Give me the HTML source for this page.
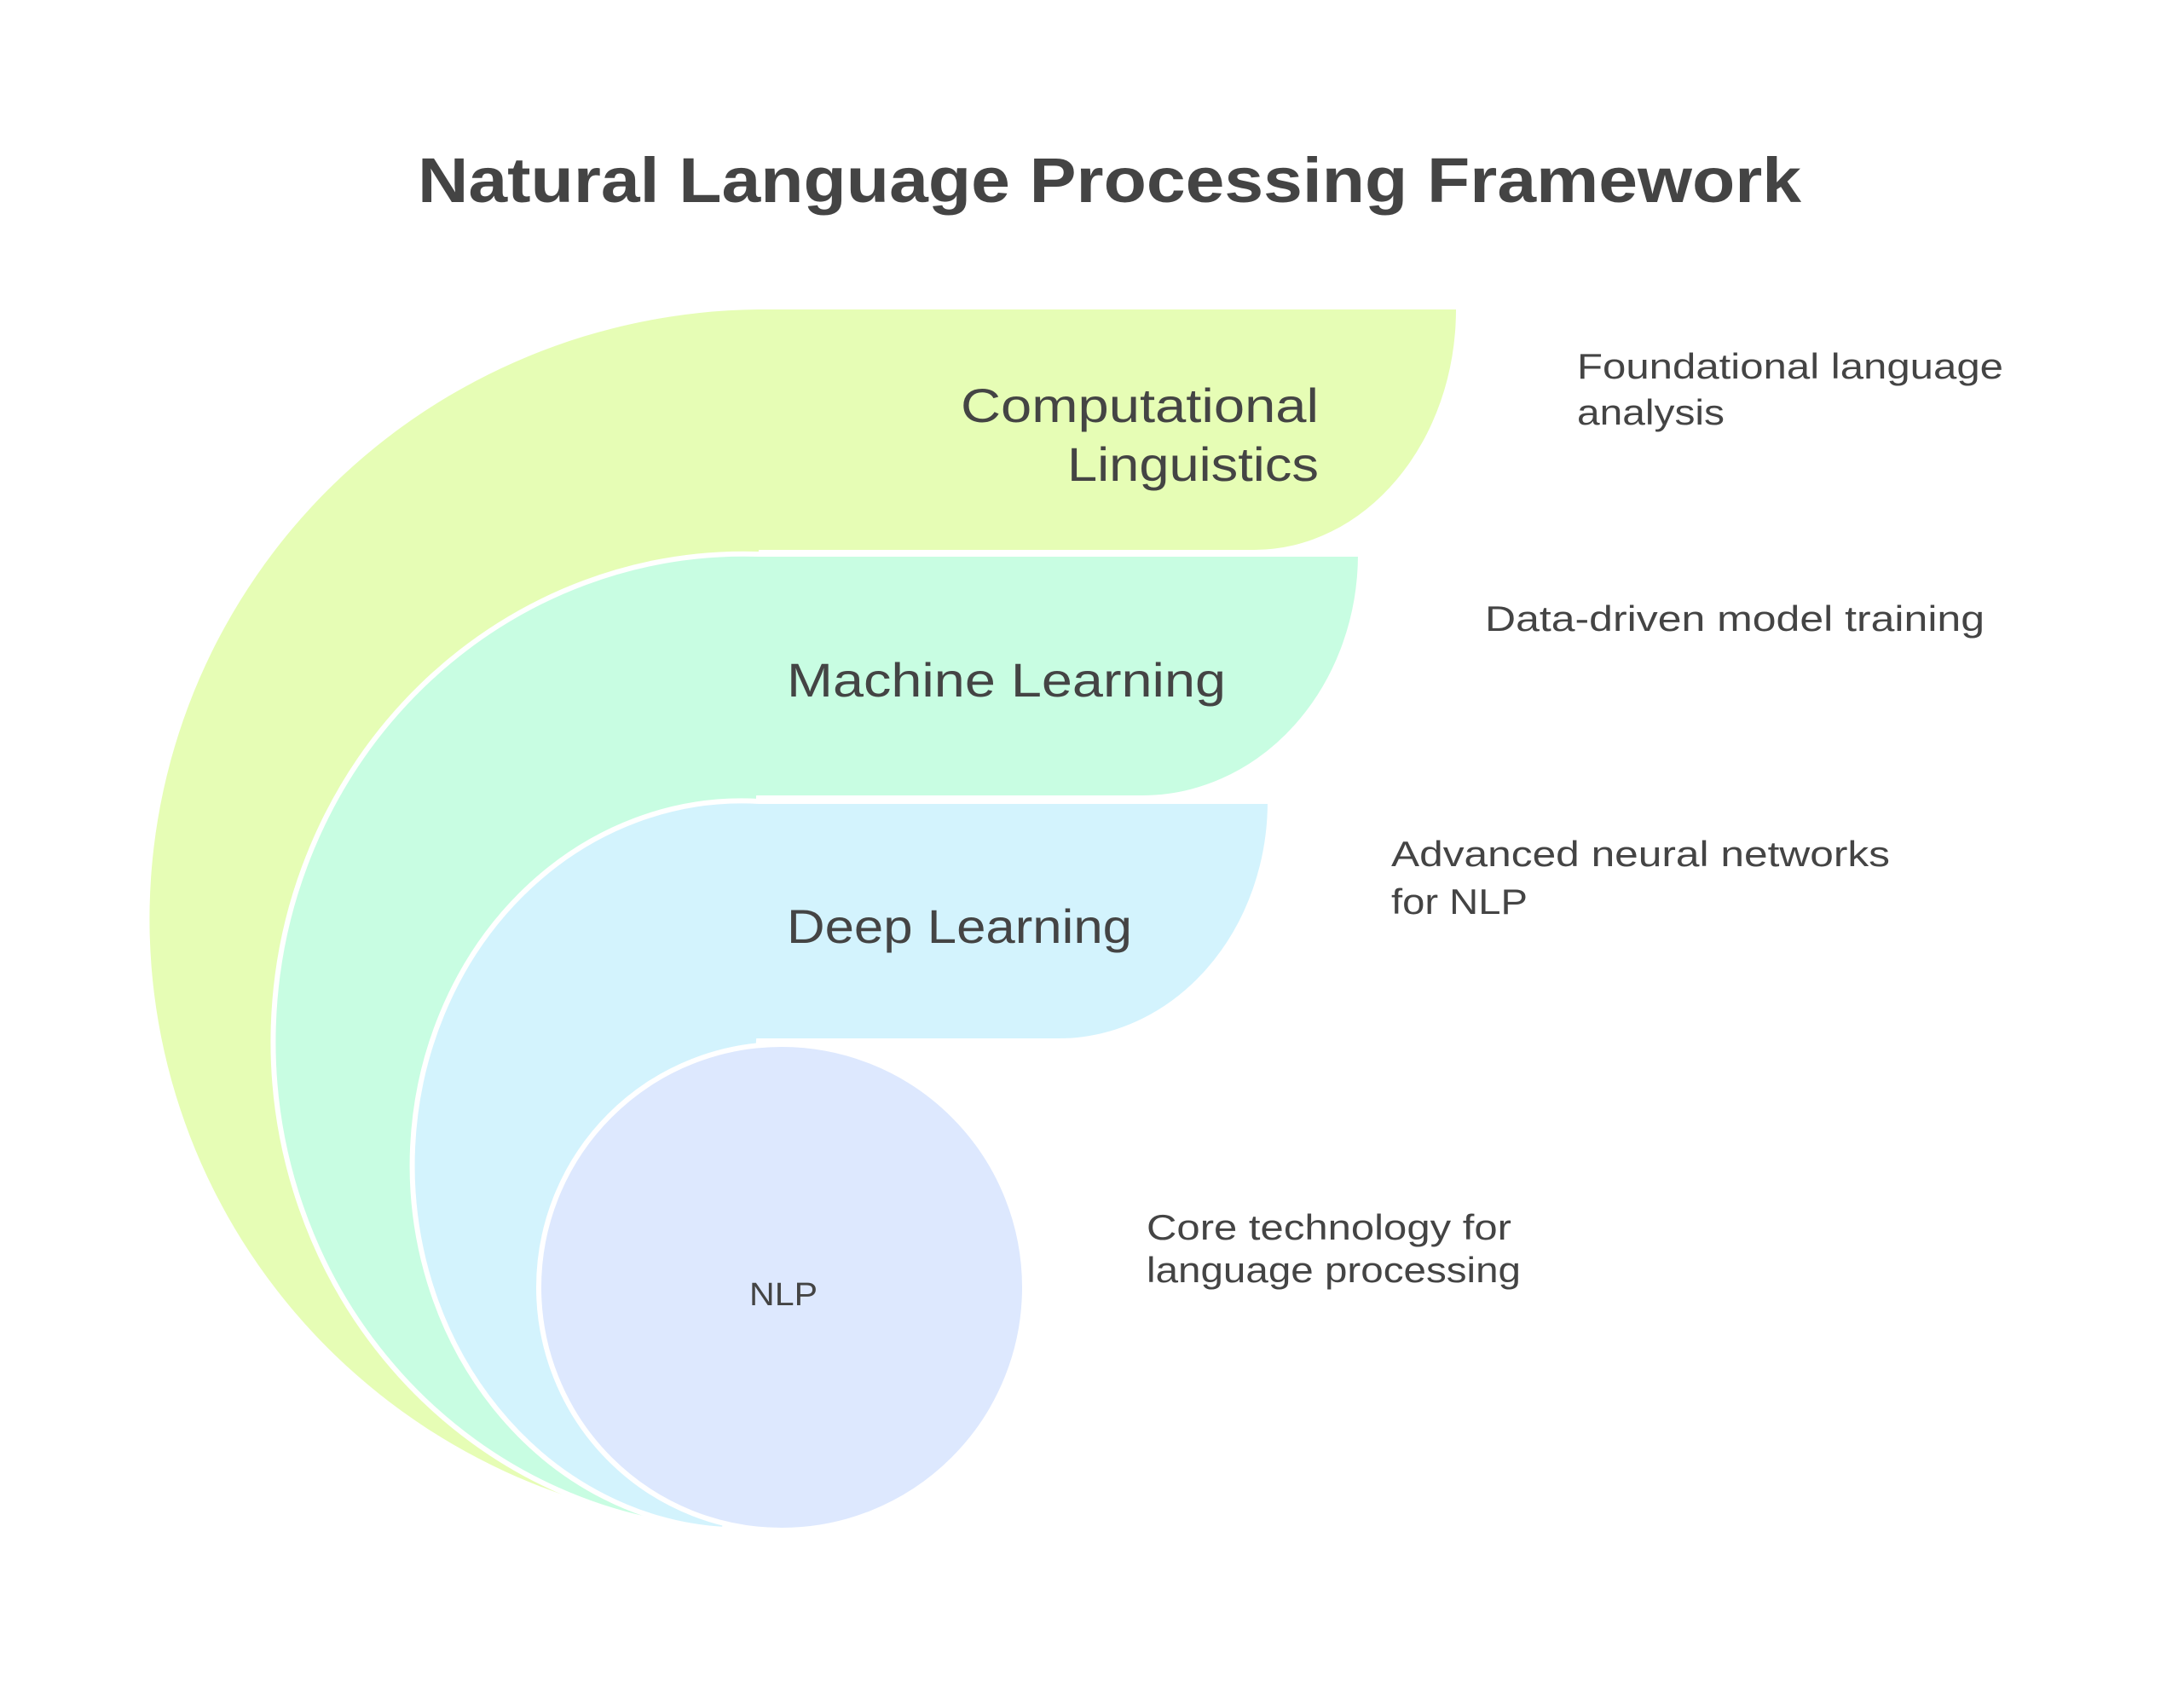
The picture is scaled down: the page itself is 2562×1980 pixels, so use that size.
<!DOCTYPE html>
<html><head><meta charset="utf-8"><style>
html,body{margin:0;padding:0;background:#fff}
svg{display:block}
text{font-family:"Liberation Sans",sans-serif;fill:#444}
</style></head><body>
<svg width="2562" height="1980" viewBox="0 0 2562 1980" xmlns="http://www.w3.org/2000/svg">
<rect width="2562" height="1980" fill="#fff"/>
<text x="490" y="237" font-size="74" font-weight="bold" textLength="1623" lengthAdjust="spacingAndGlyphs">Natural Language Processing Framework</text>
<path d="M890,363 L1708,363 A237,282 0 0 1 1471,645 L890,645 L860,1792 A722,715 0 0 1 890,363 Z" fill="#e6fdb5"/>
<path d="M890,650 L1596,650 A256,286 0 0 1 1340,936 L890,936 L855,1794 A551,571 0 0 1 890,650 Z" fill="#c8fde2" stroke="#fff" stroke-width="6"/>
<path d="M890,940 L1490,940 A248,281 0 0 1 1242,1221 L890,1221 L850,1794 A385,426 0 0 1 890,940 Z" fill="#d3f3fd" stroke="#fff" stroke-width="6"/>
<circle cx="917" cy="1510" r="285" fill="#dde8fe" stroke="#fff" stroke-width="6"/>
<g font-size="56">
<text x="1127" y="495" textLength="420" lengthAdjust="spacingAndGlyphs">Computational</text>
<text x="1252" y="564" textLength="295" lengthAdjust="spacingAndGlyphs">Linguistics</text>
<text x="923" y="817" textLength="515" lengthAdjust="spacingAndGlyphs">Machine Learning</text>
<text x="923" y="1106" textLength="405" lengthAdjust="spacingAndGlyphs">Deep Learning</text>
</g>
<text x="879" y="1531" font-size="38" textLength="80" lengthAdjust="spacingAndGlyphs">NLP</text>
<g font-size="42">
<text x="1850" y="444" textLength="500" lengthAdjust="spacingAndGlyphs">Foundational language</text>
<text x="1850" y="498" textLength="173" lengthAdjust="spacingAndGlyphs">analysis</text>
<text x="1742" y="740" textLength="586" lengthAdjust="spacingAndGlyphs">Data-driven model training</text>
<text x="1632" y="1016" textLength="585" lengthAdjust="spacingAndGlyphs">Advanced neural networks</text>
<text x="1632" y="1072" textLength="160" lengthAdjust="spacingAndGlyphs">for NLP</text>
<text x="1345" y="1454" textLength="428" lengthAdjust="spacingAndGlyphs">Core technology for</text>
<text x="1345" y="1504" textLength="439" lengthAdjust="spacingAndGlyphs">language processing</text>
</g>
</svg>
</body></html>
